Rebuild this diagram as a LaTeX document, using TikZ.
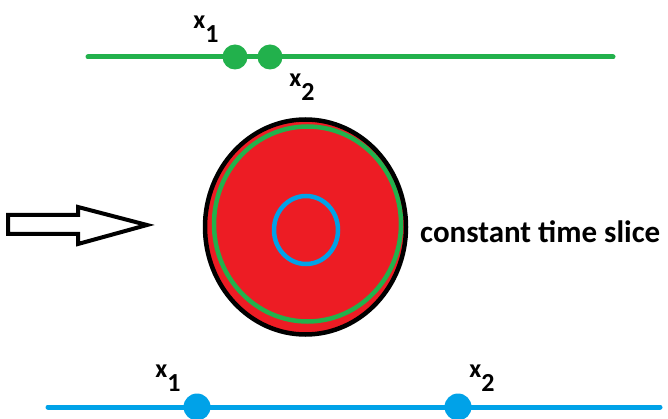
\documentclass[tikz,border=0pt]{standalone}
\usepackage{fontspec}
\setmainfont{Carlito}
\usetikzlibrary{arrows.meta, positioning}
\definecolor{pgreen}{HTML}{22B14C}
\definecolor{pred}{HTML}{ED1C24}
\definecolor{pblue}{HTML}{00A2E8}
\newcommand{\lowsub}[1]{\raisebox{-0.55em}{#1}}

\begin{document}
\begin{tikzpicture}[x=1pt, y=-1pt, font=\bfseries\fontsize{26}{30}\selectfont,
  gdot/.style={circle, fill=pgreen, inner sep=0pt, minimum size=25pt},
  bdot/.style={circle, fill=pblue, inner sep=0pt, minimum size=27pt},
  lbl/.style={inner sep=0pt}]
  \useasboundingbox (0,0) rectangle (668,419);

  % obere Linie (gruen)
  \coordinate (gA) at (88,57);
  \coordinate (gB) at (613,57);
  \draw[pgreen, line width=5pt, line cap=round] (gA) -- (gB);
  \node[gdot] (g1) at (235,57) {};
  \node[gdot] (g2) at (270,57) {};
  \node[lbl] (gx1) at (206,29) {x\lowsub{1}};
  \node[lbl] (gx2) at (302,87) {x\lowsub{2}};

  % Scheibe
  \coordinate (c) at (305.5,227);
  \fill[pred] (c) ellipse [x radius=100.5, y radius=107.5];
  \draw[pgreen, line width=4.5pt] (307.5,224) ellipse [x radius=93.5, y radius=97.5];
  \draw[black, line width=4.5pt] (c) ellipse [x radius=100.5, y radius=107.5];
  \draw[pblue, line width=4.5pt] (306,230) ellipse [x radius=32, y radius=34];
  \node[lbl, anchor=base west, font=\bfseries\fontsize{31}{35}\selectfont] (slice) at (420,243) {constant time slice};

  % Pfeil
  \draw[black, line width=4pt, line join=miter]
    (8,215) -- (78,215) -- (78,207) -- (147,225) -- (78,244) -- (78,234) -- (8,234) -- cycle;

  % untere Linie (blau)
  \coordinate (bA) at (48,407);
  \coordinate (bB) at (660,407);
  \draw[pblue, line width=5pt, line cap=round] (bA) -- (bB);
  \node[bdot] (b1) at (197,407) {};
  \node[bdot] (b2) at (458,407) {};
  \node[lbl] (bx1) at (168,378) {x\lowsub{1}};
  \node[lbl] (bx2) at (482,378) {x\lowsub{2}};
\end{tikzpicture}
\end{document}
